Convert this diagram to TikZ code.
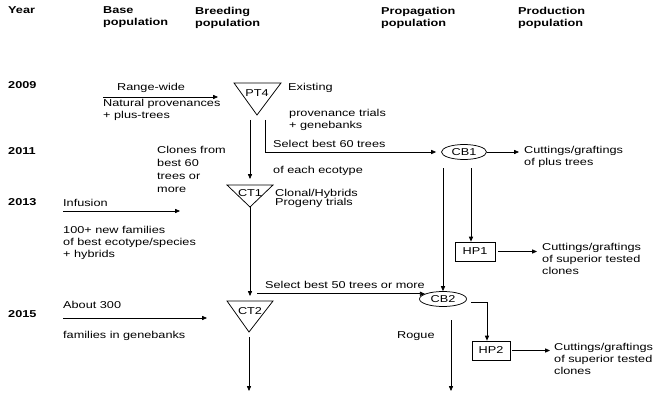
\documentclass[tikz,border=0pt]{standalone}
\usepackage{fontspec}
\setmainfont{Liberation Sans}[FakeStretch=1.27]
\usetikzlibrary{arrows.meta,shapes.geometric}
\begin{document}
\begin{tikzpicture}[x=1pt,y=-1pt,
  txt/.style={inner sep=0pt, font=\fontsize{10}{12}\selectfont, align=left},
  lbl/.style={txt, anchor=base west},
  blk/.style={txt, anchor=north west},
  hdr/.style={txt, anchor=north west, font=\fontsize{10}{12}\selectfont\bfseries},
  yr/.style={txt, anchor=base west, font=\fontsize{10}{12}\selectfont\bfseries},
  lab/.style={inner sep=0pt, font=\fontsize{10}{12}\selectfont},
  ln/.style={line width=0.75pt},
  arr/.style={ln, -{Triangle[length=5pt,width=4.2pt]}},
  tri/.style={ln, line join=miter},
  cbs/.style={ellipse, draw, ln, inner sep=0pt, minimum width=45pt, minimum height=15pt, font=\fontsize{10}{12}\selectfont},
  hps/.style={rectangle, draw, ln, inner sep=0pt, minimum width=40pt, minimum height=19pt, font=\fontsize{10}{12}\selectfont},
]
\useasboundingbox (0,0) rectangle (653,393);

% headers
\node[hdr] (hyear) at (8,6.8) {Year};
\node[hdr] (hbase) at (103,6.8) {Base\\population};
\node[hdr] (hbreed) at (195,6.8) {Breeding\\population};
\node[hdr] (hprop) at (381,6.8) {Propagation\\population};
\node[hdr] (hprod) at (518,6.8) {Production\\population};

% years
\node[yr] (y2009) at (8,88.6) {2009};
\node[yr] (y2011) at (8,154.6) {2011};
\node[yr] (y2013) at (8,205.6) {2013};
\node[yr] (y2015) at (8,317) {2015};

% 2009 row
\node[lbl] (trw) at (117,90.6) {Range-wide};
\node[blk] (tnat) at (103,99.3) {Natural provenances\\+ plus-trees};
\draw[tri] (234,83) -- (281,83) -- (257,115) -- cycle;
\node[lab] (pt4) at (257,93) {PT4};
\node[lbl] (texist) at (288,90.6) {Existing};
\node[blk] (tprov) at (289,109.3) {provenance trials\\+ genebanks};
\node[lbl] (tsel60) at (273,147.6) {Select best 60 trees};
\node[lbl] (teco) at (273,173.6) {of each ecotype};
\node[blk] (tclon) at (157,146.3) {Clones from\\[1pt]best 60\\[1pt]trees or\\[1pt]more};

% CB1
\node[cbs] (cb1) at (464,152) {CB1};
\node[blk] (tcut1) at (524,146.3) {Cuttings/graftings\\of plus trees};

% CT1
\draw[tri] (227,185) -- (273,185) -- (250,207) -- cycle;
\node[lab] (ct1) at (250,193) {CT1};
\node[blk] (tclonal) at (275,189.3) {Clonal/Hybrids\\[-3pt]Progeny trials};

% 2013 row
\node[lbl] (tinf) at (63,206.6) {Infusion};
\node[blk] (tnew) at (63,226.3) {100+ new families\\of best ecotype/species\\+ hybrids};

% HP1
\node[hps] (hp1) at (475,251.5) {HP1};
\node[blk] (tcut2) at (542,243.3) {Cuttings/graftings\\of superior tested\\clones};

% 2015 row
\node[lbl] (tsel50) at (265,288.6) {Select best 50 trees or more};
\draw[tri] (227,301) -- (273,301) -- (249,332) -- cycle;
\node[lab] (ct2) at (250,311) {CT2};
\node[lbl] (tabout) at (63,308.6) {About 300};
\node[lbl] (tfam) at (63,338.6) {families in genebanks};
\node[cbs, minimum width=47pt] (cb2) at (443,299) {CB2};
\node[lbl] (trogue) at (397,338.6) {Rogue};
\node[hps, minimum width=38pt] (hp2) at (491,350.5) {HP2};
\node[blk] (tcut3) at (554,343.3) {Cuttings/graftings\\of superior tested\\clones};

% connector end points
\coordinate (rwA) at (103,97);
\coordinate (rwB) at (218,97);
\coordinate (pt4L) at (250,120);
\coordinate (ct1T) at (250,179);
\coordinate (pt4R) at (265,120);
\coordinate (cut1A) at (519,152);
\coordinate (cb1dl) at (443,168);
\coordinate (cb1dr) at (471,168);
\coordinate (cut2A) at (537,251.5);
\coordinate (ct1B) at (250,207);
\coordinate (ct2T) at (250,296);
\coordinate (infA) at (63,211);
\coordinate (infB) at (180,211);
\coordinate (sb50) at (257,294);
\coordinate (abA) at (63,318);
\coordinate (abB) at (207,318);
\coordinate (ct2B) at (249,337);
\coordinate (ct2E) at (249,391);
\coordinate (cb2B) at (451,320);
\coordinate (cb2E) at (451,391);
\coordinate (cb2R) at (471,302);
\coordinate (cut3A) at (550,350.5);

% connectors
\draw[arr] (rwA) -- (rwB);
\draw[arr] (pt4L) -- (ct1T);
\draw[arr, shorten >=5pt] (pt4R) |- (cb1.west);
\draw[arr] (cb1.east) -- (cut1A);
\draw[arr] (cb1dl) -- (cb2.north);
\draw[arr] (cb1dr) -- (cb1dr |- hp1.north);
\draw[arr] ([xshift=3pt]hp1.east) -- (cut2A);
\draw[arr] (ct1B) -- (ct2T);
\draw[arr] (infA) -- (infB);
\draw[arr] (cb2.164 -| sb50) -- (cb2.164);
\draw[arr] (abA) -- (abB);
\draw[arr] (ct2B) -- (ct2E);
\draw[arr] (cb2B) -- (cb2E);
\draw[arr] (cb2R) -| ([xshift=-4pt]hp2.north);
\draw[arr] ([xshift=2pt]hp2.east) -- (cut3A);
\end{tikzpicture}
\end{document}
